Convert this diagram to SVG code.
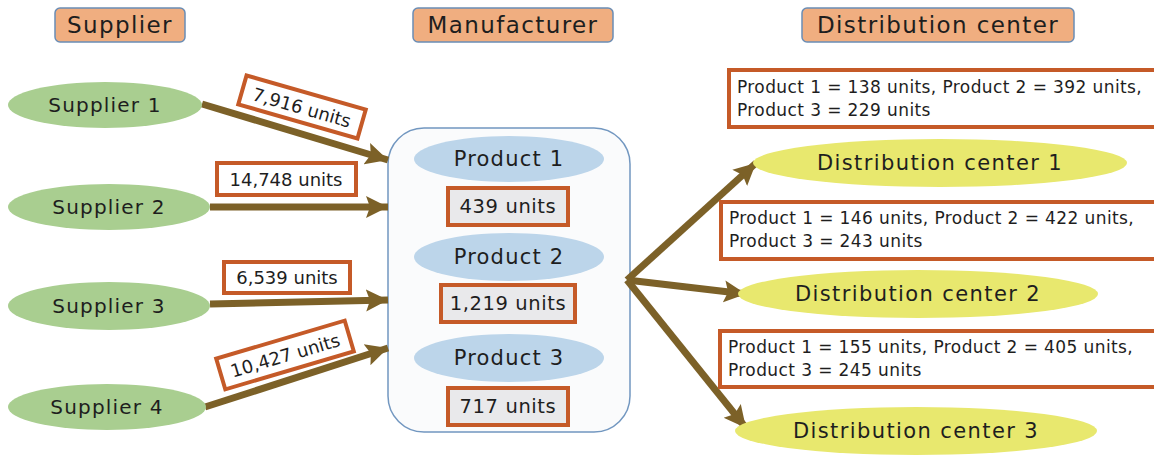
<svg xmlns="http://www.w3.org/2000/svg" width="1154" height="462" viewBox="0 0 1154 462">
  <style>
    text { font-family: "DejaVu Sans", "Liberation Sans", sans-serif; fill: #1e1e1e; }
    .hdr rect { fill: #F0AE80; stroke: #6A8DB5; stroke-width: 1.5; }
    .hdr text { font-size: 23px; letter-spacing: 1.4px; text-anchor: middle; }
    .sup ellipse { fill: #A9CE90; }
    .sup text { font-size: 20px; letter-spacing: 1.2px; text-anchor: middle; }
    .prod ellipse { fill: #BCD5EA; }
    .prod text { font-size: 21px; letter-spacing: 1.2px; text-anchor: middle; }
    .qty rect { fill: #E9E9EB; stroke: #C55A28; stroke-width: 4; }
    .qty text { font-size: 19.5px; letter-spacing: 0.6px; text-anchor: middle; }
    .lbl rect { fill: #FFFFFF; stroke: #C55A28; stroke-width: 4; }
    .lbl text { font-size: 18px; text-anchor: middle; }
    .dc ellipse { fill: #E8E86E; }
    .dc text { font-size: 21px; letter-spacing: 1.4px; text-anchor: middle; }
    .info rect { fill: #FFFFFF; stroke: #C55A28; stroke-width: 4; }
    .info text { font-size: 17px; letter-spacing: 0.4px; }
    .flow line { stroke: #7C6128; stroke-width: 7; marker-end: url(#head); }
  </style>
  <defs>
    <marker id="head" markerUnits="userSpaceOnUse" markerWidth="26" markerHeight="24" refX="22" refY="12" orient="auto">
      <path d="M0,1 L22,12 L0,23 L4,12 Z" fill="#7C6128"/>
    </marker>
  </defs>

  <rect width="1154" height="462" fill="#FFFFFF"/>

  <!-- column headings -->
  <g id="hdr-supplier" class="hdr">
    <rect x="55" y="8" width="130" height="34" rx="5"/>
    <text x="120" y="33">Supplier</text>
  </g>
  <g id="hdr-manufacturer" class="hdr">
    <rect x="413" y="8" width="200" height="34" rx="5"/>
    <text x="513" y="33">Manufacturer</text>
  </g>
  <g id="hdr-distribution" class="hdr">
    <rect x="802" y="8" width="272" height="34" rx="5"/>
    <text x="938" y="33">Distribution center</text>
  </g>

  <!-- manufacturer container -->
  <g id="manufacturer">
    <rect x="388" y="128" width="242" height="304" rx="36" fill="#FAFBFC" stroke="#7297C0" stroke-width="1.5"/>
  </g>

  <!-- connectors -->
  <g id="connectors" class="flow">
    <line x1="202" y1="104" x2="388" y2="160"/>
    <line x1="210" y1="207" x2="388" y2="207"/>
    <line x1="210" y1="304" x2="388" y2="300"/>
    <line x1="205" y1="407" x2="388" y2="348"/>
    <line x1="627" y1="280" x2="756" y2="163"/>
    <line x1="627" y1="280" x2="746" y2="294"/>
    <line x1="627" y1="280" x2="746" y2="428"/>
  </g>

  <!-- suppliers -->
  <g id="supplier-1" class="sup">
    <ellipse cx="105" cy="105" rx="97" ry="23"/>
    <text x="105" y="112">Supplier 1</text>
  </g>
  <g id="supplier-2" class="sup">
    <ellipse cx="109" cy="207" rx="101" ry="23"/>
    <text x="109" y="214">Supplier 2</text>
  </g>
  <g id="supplier-3" class="sup">
    <ellipse cx="109" cy="306" rx="101" ry="24"/>
    <text x="109" y="313">Supplier 3</text>
  </g>
  <g id="supplier-4" class="sup">
    <ellipse cx="107" cy="407" rx="99" ry="23"/>
    <text x="107" y="414">Supplier 4</text>
  </g>

  <!-- shipment labels -->
  <g id="ship-1" class="lbl" transform="translate(302,107) rotate(16)">
    <rect x="-62" y="-15" width="124" height="30"/>
    <text x="0" y="7">7,916 units</text>
  </g>
  <g id="ship-2" class="lbl">
    <rect x="217" y="163" width="139" height="32"/>
    <text x="286" y="186">14,748 units</text>
  </g>
  <g id="ship-3" class="lbl">
    <rect x="224" y="262" width="126" height="31"/>
    <text x="287" y="284">6,539 units</text>
  </g>
  <g id="ship-4" class="lbl" transform="translate(285,355) rotate(-16.5)">
    <rect x="-67" y="-16" width="134" height="32"/>
    <text x="0" y="7">10,427 units</text>
  </g>

  <!-- products -->
  <g id="product-1" class="prod">
    <ellipse cx="509" cy="159" rx="95" ry="23"/>
    <text x="509" y="166">Product 1</text>
  </g>
  <g id="qty-1" class="qty">
    <rect x="448" y="188" width="120" height="37"/>
    <text x="508" y="213">439 units</text>
  </g>
  <g id="product-2" class="prod">
    <ellipse cx="509" cy="257" rx="95" ry="24"/>
    <text x="509" y="264">Product 2</text>
  </g>
  <g id="qty-2" class="qty">
    <rect x="441" y="285" width="134" height="37"/>
    <text x="508" y="310">1,219 units</text>
  </g>
  <g id="product-3" class="prod">
    <ellipse cx="509" cy="358" rx="95" ry="24"/>
    <text x="509" y="365">Product 3</text>
  </g>
  <g id="qty-3" class="qty">
    <rect x="448" y="388" width="120" height="37"/>
    <text x="508" y="413">717 units</text>
  </g>

  <!-- distribution centers -->
  <g id="info-1" class="info">
    <rect x="729" y="70" width="440" height="57"/>
    <text x="737" y="93">Product 1 = 138 units, Product 2 = 392 units,</text>
    <text x="737" y="116">Product 3 = 229 units</text>
  </g>
  <g id="dc-1" class="dc">
    <ellipse cx="940" cy="163" rx="187" ry="24"/>
    <text x="940" y="170">Distribution center 1</text>
  </g>
  <g id="info-2" class="info">
    <rect x="721" y="202" width="450" height="57"/>
    <text x="729" y="224">Product 1 = 146 units, Product 2 = 422 units,</text>
    <text x="729" y="247">Product 3 = 243 units</text>
  </g>
  <g id="dc-2" class="dc">
    <ellipse cx="918" cy="294" rx="180" ry="24"/>
    <text x="918" y="301">Distribution center 2</text>
  </g>
  <g id="info-3" class="info">
    <rect x="720" y="331" width="450" height="56"/>
    <text x="728" y="353">Product 1 = 155 units, Product 2 = 405 units,</text>
    <text x="728" y="376">Product 3 = 245 units</text>
  </g>
  <g id="dc-3" class="dc">
    <ellipse cx="916" cy="431" rx="181" ry="24"/>
    <text x="916" y="438">Distribution center 3</text>
  </g>
</svg>
